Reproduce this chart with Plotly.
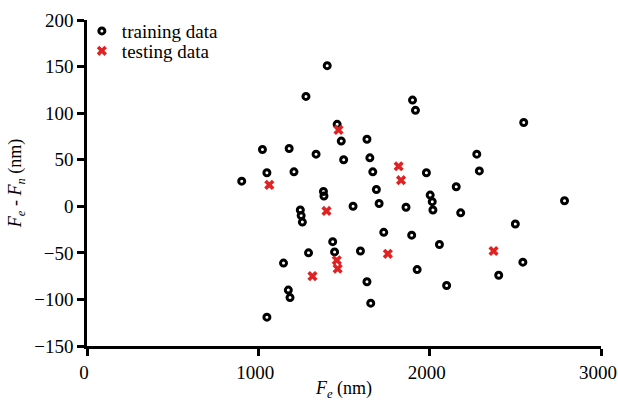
import plotly.graph_objects as go

train_x = [903, 1024, 1050, 1050, 1147, 1175, 1185, 1180, 1208, 1245, 1250, 1257,
           1278, 1293, 1337, 1380, 1383, 1402, 1434, 1445, 1460, 1484, 1498, 1553,
           1596, 1634, 1634, 1651, 1656, 1668, 1689, 1705, 1732, 1862, 1895, 1900,
           1917, 1927, 1981, 2003, 2015, 2019, 2057, 2099, 2155, 2181, 2275, 2290,
           2403, 2500, 2544, 2549, 2787]
train_y = [27, 61, 36, -119, -61, -90, -98, 62, 37, -4, -10, -17,
           118, -50, 56, 16, 11, 151, -38, -49, 88, 70, 50, 0,
           -48, 72, -81, 52, -104, 37, 18, 3, -28, -1, -31, 114,
           103, -68, 36, 12, 5, -4, -41, -85, 21, -7, 56, 38,
           -74, -19, -60, 90, 6]

test_x = [1064, 1316, 1398, 1468, 1458, 1463, 1756, 1819, 1833, 2373]
test_y = [23, -75, -5, 82, -58, -67, -51, 43, 28, -48]

x_ticks = [0, 1000, 2000, 3000]
y_ticks = [-150, -100, -50, 0, 50, 100, 150, 200]

FONT = "Liberation Serif, Times New Roman, DejaVu Serif, serif"

fig = go.Figure()
fig.add_trace(go.Scatter(
    x=train_x, y=train_y, mode="markers", name="training data",
    legend="legend",
    marker=dict(symbol="circle-open", size=6, color="black",
                line=dict(width=3, color="black")),
))
fig.add_trace(go.Scatter(
    x=test_x, y=test_y, mode="markers", name="testing data",
    legend="legend2",
    marker=dict(symbol="x", size=9, color="#e02222",
                line=dict(width=0)),
))

axis_common = dict(
    showline=True, linecolor="black", linewidth=2.5,
    ticks="outside", ticklen=7, tickwidth=2.5, tickcolor="black",
    showgrid=False, zeroline=False, mirror=False, automargin=False,
    ticklabeloverflow="allow",
    tickfont=dict(family=FONT, size=19, color="black"),
)

leg_common = dict(xanchor="left", yanchor="middle", bgcolor="rgba(0,0,0,0)",
                  itemwidth=30, font=dict(family=FONT, size=19, color="black"),
                  borderwidth=0)

fig.update_layout(
    width=618, height=401,
    margin=dict(l=87, r=17, t=20, b=55),
    paper_bgcolor="white", plot_bgcolor="white",
    font=dict(family=FONT, size=19, color="black"),
    xaxis=dict(range=[0, 3000], tickvals=x_ticks, ticklabelshift=-3, **axis_common,
               title=dict(text="<i>F<sub>e</sub></i> (nm)", standoff=12,
                          font=dict(family=FONT, size=18))),
    yaxis=dict(range=[-150, 200], tickvals=y_ticks, **axis_common,
               title=dict(text="<i>F<sub>e</sub></i> - <i>F<sub>n</sub></i> (nm)",
                          standoff=8, font=dict(family=FONT, size=18))),
    legend=dict(x=-0.01, y=0.966, **leg_common),
    legend2=dict(x=-0.01, y=0.905, **leg_common),
    showlegend=True,
)

fig.write_html("out.html")
